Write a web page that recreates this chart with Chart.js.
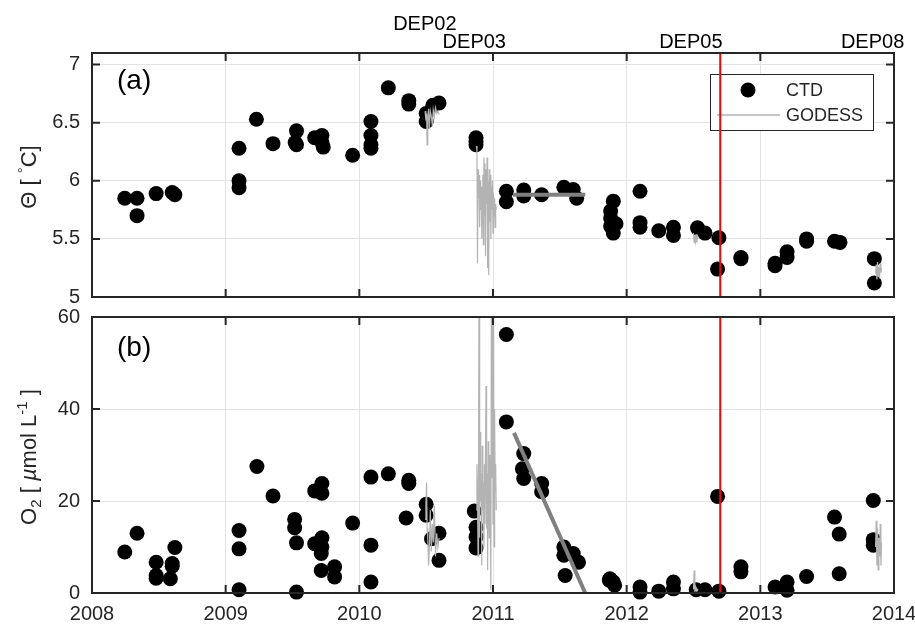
<!DOCTYPE html>
<html>
<head>
<meta charset="utf-8">
<script src="https://cdn.jsdelivr.net/npm/chart.js@4.4.1/dist/chart.umd.min.js"></script>
<style>
    html, body { margin: 0; padding: 0; background: #fff; }
    #wrap { position: relative; width: 915px; height: 625px; }
    canvas { position: absolute; left: 0; }
    #thetaChart { top: 0; }
    #o2Chart { top: 300px; }
</style>
</head>
<body>
<div id="wrap">
    <canvas id="thetaChart" width="915" height="320"></canvas>
    <canvas id="o2Chart" width="915" height="325"></canvas>
</div>
<script>
// ===== Data (decimal years) =====

const yearTicks = [2008, 2009, 2010, 2011, 2012, 2013, 2014];
const thetaTicks = [5, 5.5, 6, 6.5, 7];
const o2Ticks = [0, 20, 40, 60];

// CTD casts, panel (a)
const ctdThetaYear = [
    2008.245, 2008.337, 2008.337, 2008.48, 2008.60, 2008.62,
    2009.10, 2009.10, 2009.10, 2009.23, 2009.354, 2009.53, 2009.52, 2009.53,
    2009.666, 2009.72, 2009.72, 2009.73, 2009.95,
    2010.087, 2010.087, 2010.087, 2010.087, 2010.217, 2010.37, 2010.37,
    2010.50, 2010.50, 2010.55, 2010.596, 2010.873, 2010.873, 2010.873,
    2011.10, 2011.10, 2011.23, 2011.23, 2011.364, 2011.53, 2011.60, 2011.626,
    2011.90, 2011.88, 2011.88, 2011.88, 2011.92, 2011.90,
    2012.10, 2012.10, 2012.10, 2012.24, 2012.35, 2012.35, 2012.53, 2012.586,
    2012.69, 2012.68, 2012.855, 2012.855,
    2013.11, 2013.11, 2013.20, 2013.20, 2013.346, 2013.346, 2013.555, 2013.596,
    2013.853, 2013.853
];
const ctdTheta = [
    5.85, 5.85, 5.70, 5.89, 5.90, 5.88,
    6.28, 6.00, 5.94, 6.53, 6.32, 6.43, 6.33, 6.31,
    6.37, 6.39, 6.33, 6.29, 6.22,
    6.51, 6.39, 6.31, 6.28, 6.80, 6.69, 6.66,
    6.58, 6.51, 6.65, 6.67, 6.37, 6.34, 6.31,
    5.91, 5.82, 5.92, 5.87, 5.88, 5.945, 5.925, 5.85,
    5.825, 5.74, 5.68, 5.61, 5.63, 5.55,
    5.91, 5.64, 5.60, 5.57, 5.60, 5.53, 5.595, 5.55,
    5.51, 5.24, 5.34, 5.33,
    5.27, 5.29, 5.39, 5.34, 5.48, 5.50, 5.48, 5.47,
    5.33, 5.12
];

// CTD casts, panel (b)
const ctdO2Year = [
    2008.245, 2008.337, 2008.48, 2008.48, 2008.48, 2008.586, 2008.60, 2008.60, 2008.62,
    2009.10, 2009.10, 2009.10, 2009.234, 2009.354, 2009.516, 2009.516, 2009.53, 2009.53,
    2009.666, 2009.72, 2009.72, 2009.666, 2009.72, 2009.72, 2009.715, 2009.715,
    2009.815, 2009.815, 2009.95,
    2010.087, 2010.087, 2010.087, 2010.217, 2010.37, 2010.37, 2010.35,
    2010.50, 2010.50, 2010.54, 2010.596, 2010.596,
    2010.86, 2010.873, 2010.873, 2010.873,
    2011.10, 2011.10, 2011.23, 2011.22, 2011.23, 2011.364, 2011.364,
    2011.53, 2011.53, 2011.60, 2011.64, 2011.54,
    2011.875, 2011.90, 2011.87, 2011.91,
    2012.10, 2012.10, 2012.24, 2012.35, 2012.35, 2012.52, 2012.586,
    2012.68, 2012.69, 2012.855, 2012.855,
    2013.11, 2013.20, 2013.20, 2013.346, 2013.555, 2013.59, 2013.59,
    2013.845, 2013.845, 2013.845
];
const ctdO2 = [
    8.9, 13.0, 6.7, 3.8, 3.2, 3.1, 6.4, 5.8, 9.9,
    13.6, 9.6, 0.7, 27.5, 21.1, 16.0, 14.2, 10.9, 0.2,
    22.2, 23.8, 21.7, 10.7, 12.0, 10.0, 8.6, 4.9,
    5.7, 3.5, 15.2,
    25.2, 10.4, 2.4, 25.9, 24.5, 23.8, 16.3,
    19.3, 16.9, 11.8, 13.0, 7.1,
    17.8, 14.3, 12.2, 9.8,
    56.2, 37.2, 30.3, 27.0, 24.9, 23.8, 22.0,
    10.0, 8.2, 8.6, 6.7, 3.8,
    3.1, 2.4, 2.8, 1.7,
    1.3, 0.2, 0.4, 2.4, 0.9, 0.7, 0.7,
    21.0, 0.4, 5.7, 4.6,
    1.3, 2.4, 0.6, 3.6, 16.5, 12.8, 4.2,
    20.1, 11.6, 10.4
];

// GODESS profiler records, one block per deployment
const dep02Year = [2010.492, 2010.498, 2010.503, 2010.507, 2010.512, 2010.518, 2010.524, 2010.531,
    2010.538, 2010.546, 2010.553, 2010.561, 2010.570, 2010.579, 2010.588, 2010.597];
const dep02Theta = [6.60, 6.52, 6.58, 6.31, 6.55, 6.62, 6.45, 6.60, 6.56, 6.47, 6.61, 6.55, 6.63, 6.58, 6.60, 6.57];
const dep02O2 = [16, 19, 24, 14, 12, 6, 10, 18, 9, 15, 11, 19, 8, 13, 10, 12];

const dep03Year = [2010.876, 2010.880, 2010.884, 2010.888, 2010.892, 2010.896, 2010.900, 2010.904,
    2010.908, 2010.912, 2010.916, 2010.920, 2010.924, 2010.928, 2010.932, 2010.936, 2010.940,
    2010.944, 2010.948, 2010.952, 2010.956, 2010.960, 2010.964, 2010.968, 2010.972, 2010.976,
    2010.980, 2010.984, 2010.988, 2010.992, 2010.996, 2011.000, 2011.004, 2011.008, 2011.012,
    2011.016, 2011.020, 2011.024];
const dep03Theta = [6.30, 6.25, 5.29, 6.10, 5.85, 6.05, 5.60, 6.00, 5.75, 5.95, 5.50, 5.90, 6.05,
    5.45, 6.20, 5.70, 6.15, 5.35, 6.10, 5.80, 6.20, 5.25, 6.00, 5.19, 6.10, 5.65, 6.05, 5.50,
    5.95, 5.75, 6.00, 5.55, 5.90, 5.70, 5.85, 5.60, 5.80, 5.75];
const dep03O2 = [18, 28, 22, 8, 30, 75, 12, 35, 20, 26, 6, 32, 18, 24, 10, 28, 15, 30, 45, 14,
    26, 5, 33, 20, 12, 30, 18, 0.7, 70, 25, 80, 15, 65, 10, 40, 22, 28, 18];

const dep05Year = [2012.500, 2012.505, 2012.510, 2012.515, 2012.520, 2012.525, 2012.530, 2012.535];
const dep05Theta = [5.55, 5.47, 5.53, 5.48, 5.54, 5.47, 5.52, 5.50];
const dep05O2 = [0.8, 4.9, 0.5, 1.2, 0.4, 0.9, 0.6, 0.8];

const dep08Year = [2013.862, 2013.867, 2013.872, 2013.877, 2013.882, 2013.887, 2013.892,
    2013.897, 2013.902, 2013.907];
const dep08Theta = [5.20, 5.28, 5.15, 5.30, 5.18, 5.26, 5.16, 5.29, 5.21, 5.25];
const dep08O2 = [10, 15.7, 6, 14, 5, 12, 8, 15, 6, 11];

// Fitted trends
const thetaFitYear = [2011.15, 2011.69];
const thetaFit = [5.88, 5.88];
const o2FitYear = [2011.157, 2011.69];
const o2Fit = [34.8, 0];

// Event marker and deployment names
const eventYear = 2012.7;
const depNames = ['DEP02', 'DEP03', 'DEP05', 'DEP08'];
const depLabelYear = [2010.49, 2010.86, 2012.48, 2013.84];

// ===== Drawing helpers =====

const AXIS = '#262626';
const GRID = '#e3e3e3';
const GODESS_GRAY = '#b3b3b3';
const FONT = "'Liberation Sans', Arial, Helvetica, sans-serif";

const pts = (xs, ys) => xs.map((x, i) => ({ x: x, y: ys[i] }));

function drawRotatedTitle(ctx, cx, cy, parts) {
    ctx.save();
    ctx.translate(cx, cy);
    ctx.rotate(-Math.PI / 2);
    ctx.fillStyle = AXIS;
    ctx.textBaseline = 'alphabetic';
    let total = 0;
    parts.forEach(p => { ctx.font = p.font; p.w = ctx.measureText(p.text).width; total += p.w; });
    let x = -total / 2;
    parts.forEach(p => {
        ctx.font = p.font;
        ctx.fillText(p.text, x, 8 + (p.dy || 0));
        x += p.w;
    });
    ctx.restore();
}

function drawLegend(ctx) {
    ctx.save();
    ctx.fillStyle = '#fff';
    ctx.fillRect(710, 74, 163, 56);
    ctx.strokeStyle = AXIS;
    ctx.lineWidth = 1;
    ctx.strokeRect(710.5, 74.5, 163, 56);
    ctx.fillStyle = '#000';
    ctx.beginPath();
    ctx.arc(748, 90, 7.5, 0, Math.PI * 2);
    ctx.fill();
    ctx.strokeStyle = GODESS_GRAY;
    ctx.lineWidth = 1.5;
    ctx.beginPath();
    ctx.moveTo(717, 115);
    ctx.lineTo(780, 115);
    ctx.stroke();
    ctx.fillStyle = AXIS;
    ctx.font = '18px ' + FONT;
    ctx.textBaseline = 'middle';
    ctx.fillText('CTD', 786, 91);
    ctx.fillText('GODESS', 786, 116);
    ctx.restore();
}

// box, inward ticks, panel letter, axis title
const panelDecor = {
    id: 'panelDecor',
    beforeDatasetsDraw(chart, args, o) {
        if (o.legend) drawLegend(chart.ctx);
    },
    afterDraw(chart, args, o) {
        const { ctx, chartArea: a, scales: { x, y } } = chart;
        ctx.save();
        ctx.strokeStyle = AXIS;
        ctx.lineWidth = 2;
        ctx.beginPath();
        x.ticks.forEach(t => {
            const px = x.getPixelForValue(t.value);
            ctx.moveTo(px, a.top); ctx.lineTo(px, a.top + 8);
            ctx.moveTo(px, a.bottom); ctx.lineTo(px, a.bottom - 8);
        });
        y.ticks.forEach(t => {
            const py = y.getPixelForValue(t.value);
            ctx.moveTo(a.left, py); ctx.lineTo(a.left + 8, py);
            ctx.moveTo(a.right, py); ctx.lineTo(a.right - 8, py);
        });
        ctx.stroke();
        ctx.strokeRect(a.left, a.top, a.right - a.left, a.bottom - a.top);

        ctx.fillStyle = '#000';
        ctx.font = '28px ' + FONT;
        ctx.textBaseline = 'middle';
        ctx.fillText(o.letter, 117, o.letterY);

        if (o.deps) {
            ctx.font = '20px ' + FONT;
            ctx.textAlign = 'center';
            depNames.forEach((name, i) => {
                ctx.fillText(name, x.getPixelForValue(depLabelYear[i]), i === 0 ? 24 : 42);
            });
        }
        ctx.restore();
        drawRotatedTitle(ctx, 28, o.titleY, o.title);
    }
};

function lineSet(xs, ys, color, width) {
    return {
        data: pts(xs, ys),
        showLine: true,
        borderColor: color,
        borderWidth: width,
        pointRadius: 0,
        tension: 0,
        clip: 0
    };
}

function makeScales(yMin, yMax, yTicks, showX, xHeight) {
    return {
        x: {
            type: 'linear',
            min: 2008,
            max: 2014,
            afterBuildTicks: s => { s.ticks = yearTicks.map(v => ({ value: v })); },
            ticks: {
                display: showX,
                padding: 9,
                color: AXIS,
                font: { family: FONT, size: 20 },
                callback: v => String(v)
            },
            grid: { color: GRID, drawTicks: false },
            border: { display: false },
            afterFit: s => { s.height = xHeight; s.paddingLeft = 0; s.paddingRight = 0; }
        },
        y: {
            min: yMin,
            max: yMax,
            afterBuildTicks: s => { s.ticks = yTicks.map(v => ({ value: v })); },
            ticks: {
                padding: 12,
                color: AXIS,
                font: { family: FONT, size: 20 },
                callback: v => String(v)
            },
            grid: { color: GRID, drawTicks: false },
            border: { display: false },
            afterFit: s => { s.width = 92; s.paddingTop = 0; s.paddingBottom = 0; }
        }
    };
}

const titleFont = '22px ' + FONT;
const smallFont = '15px ' + FONT;

// ===== Panel (a): potential temperature =====
new Chart(document.getElementById('thetaChart'), {
    type: 'scatter',
    data: {
        datasets: [
            lineSet([eventYear, eventYear], [5, 7.1], '#ff0000', 2),
            lineSet(thetaFitYear, thetaFit, '#808080', 4),
            lineSet(dep02Year, dep02Theta, GODESS_GRAY, 1.2),
            lineSet(dep03Year, dep03Theta, GODESS_GRAY, 1.2),
            lineSet(dep05Year, dep05Theta, GODESS_GRAY, 1.2),
            lineSet(dep08Year, dep08Theta, GODESS_GRAY, 1.2),
            {
                data: pts(ctdThetaYear, ctdTheta),
                backgroundColor: '#000',
                borderWidth: 0,
                pointRadius: 7.5,
                clip: false
            }
        ]
    },
    options: {
        responsive: false,
        animation: false,
        layout: { padding: { left: 0, right: 21, top: 53, bottom: 0 } },
        plugins: {
            legend: { display: false },
            tooltip: { enabled: false },
            panelDecor: {
                letter: '(a)', letterY: 81, legend: true, deps: true, titleY: 177,
                title: [
                    { text: 'Θ [ ', font: titleFont },
                    { text: '°', font: smallFont, dy: -8 },
                    { text: 'C]', font: titleFont }
                ]
            }
        },
        scales: makeScales(5, 7.1, thetaTicks, false, 23)
    },
    plugins: [panelDecor]
});

// ===== Panel (b): dissolved oxygen =====
new Chart(document.getElementById('o2Chart'), {
    type: 'scatter',
    data: {
        datasets: [
            lineSet([eventYear, eventYear], [0, 60], '#ff0000', 2),
            lineSet(o2FitYear, o2Fit, '#808080', 4),
            lineSet(dep02Year, dep02O2, GODESS_GRAY, 1.2),
            lineSet(dep03Year, dep03O2, GODESS_GRAY, 1.2),
            lineSet(dep05Year, dep05O2, GODESS_GRAY, 1.2),
            lineSet(dep08Year, dep08O2, GODESS_GRAY, 1.2),
            {
                data: pts(ctdO2Year, ctdO2),
                backgroundColor: '#000',
                borderWidth: 0,
                pointRadius: 7.5,
                clip: false
            }
        ]
    },
    options: {
        responsive: false,
        animation: false,
        layout: { padding: { left: 0, right: 21, top: 17, bottom: 0 } },
        plugins: {
            legend: { display: false },
            tooltip: { enabled: false },
            panelDecor: {
                letter: '(b)', letterY: 48, legend: false, deps: false, titleY: 157,
                title: [
                    { text: 'O', font: titleFont },
                    { text: '2', font: smallFont, dy: 5 },
                    { text: ' [ ', font: titleFont },
                    { text: 'µ', font: 'italic ' + titleFont },
                    { text: 'mol L', font: titleFont },
                    { text: '-1', font: smallFont, dy: -9 },
                    { text: ' ]', font: titleFont }
                ]
            }
        },
        scales: makeScales(0, 60, o2Ticks, true, 32)
    },
    plugins: [panelDecor]
});
</script>
</body>
</html>
